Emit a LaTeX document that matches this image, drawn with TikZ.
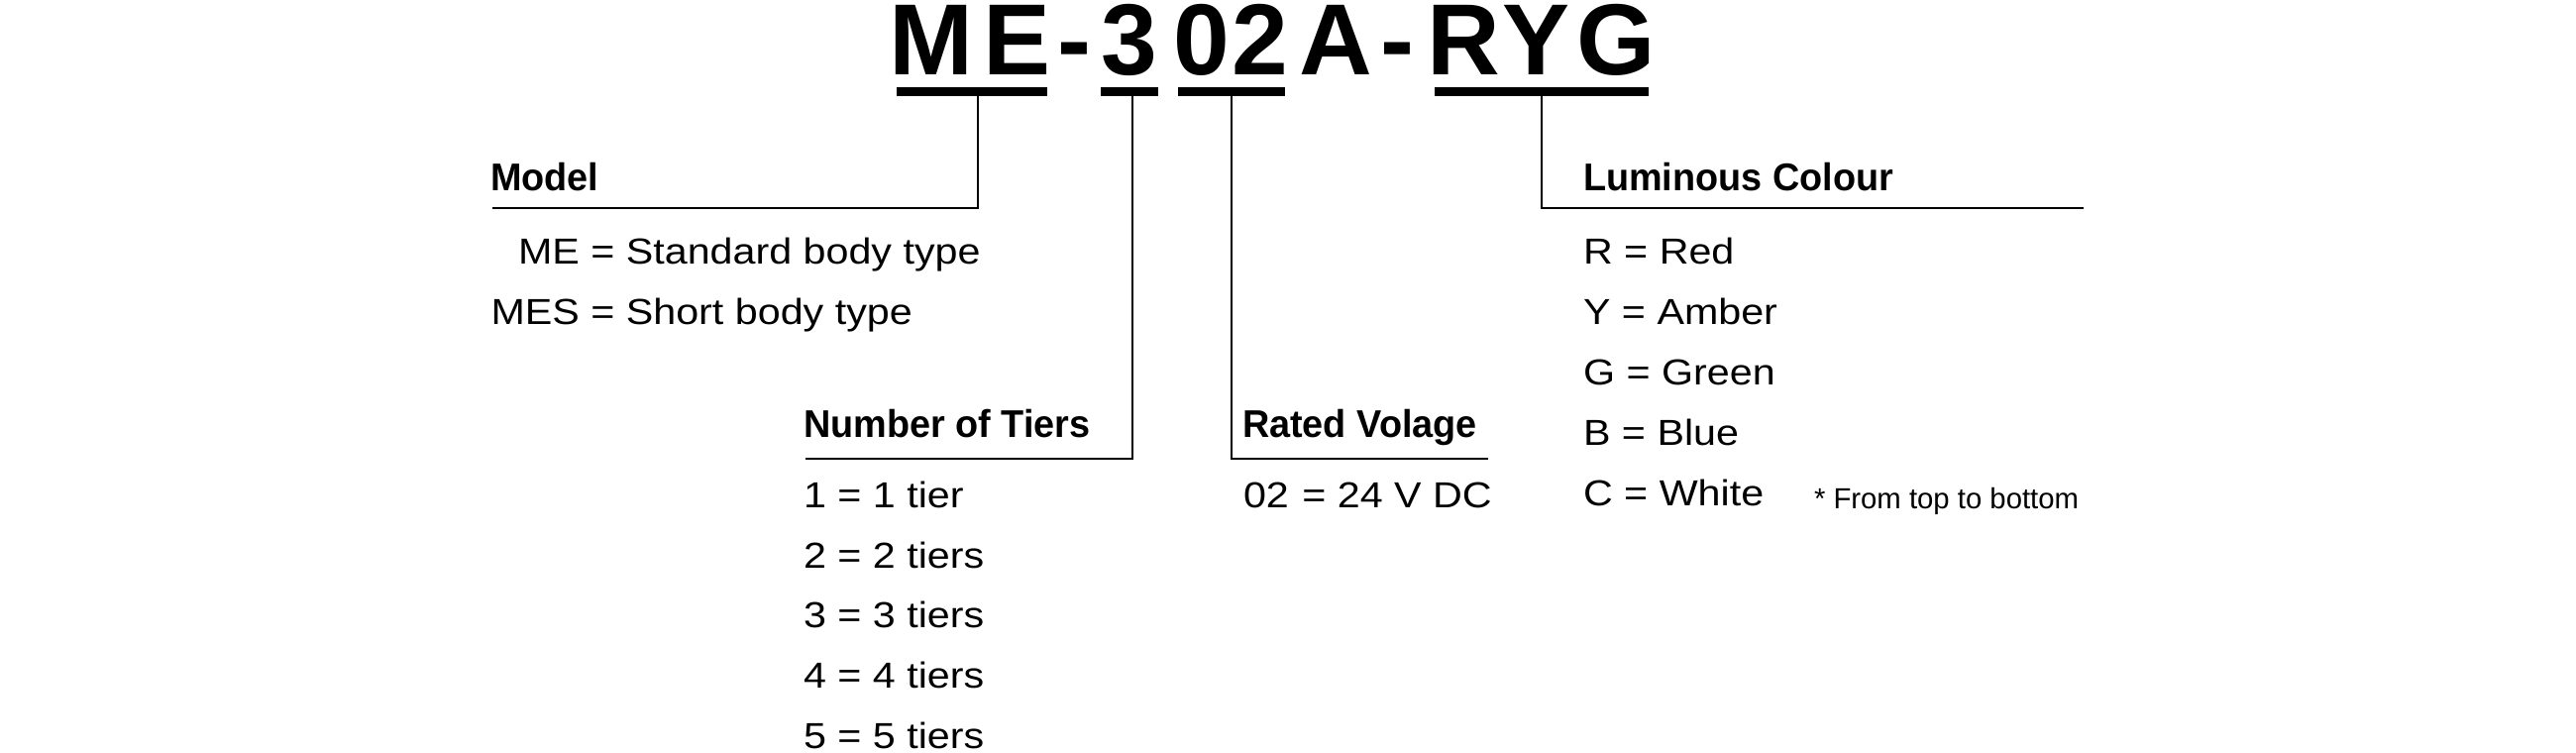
\documentclass[tikz,border=0pt]{standalone}
\usepackage{fontspec}
\setmainfont{Liberation Sans}
\newfontfamily\itemfont{Liberation Sans}[FakeStretch=1.13]
\newfontfamily\headfont{Liberation Sans}[FakeStretch=0.97]
\newfontfamily\titlefont{Liberation Sans}
\tikzset{
  lbl/.style={inner sep=0pt, outer sep=0pt, anchor=base west},
  itm/.style={lbl, font=\itemfont\fontsize{36.5pt}{40pt}\selectfont},
  hd/.style={lbl, font=\headfont\bfseries\fontsize{39pt}{42pt}\selectfont},
  note/.style={lbl, font=\fontsize{29.3pt}{32pt}\selectfont},
  ttl/.style={lbl, font=\titlefont\bfseries\fontsize{102pt}{110pt}\selectfont},
  bar/.style={rectangle, fill=black, draw=none, inner sep=0pt, outer sep=0pt, minimum height=9pt},
  conn/.style={line width=1.8pt, draw=black},
}
\begin{document}
\begin{tikzpicture}[x=1pt,y=-1pt]
\useasboundingbox (0,0) rectangle (2600,760);
% title
\node[ttl] (title) at (897.5,75.5) {M\kern10pt E\kern7.5pt -\kern9.65pt 3\kern16.6pt 0\kern2.3pt 2\kern11.25pt A\kern8.3pt -\kern12.9pt R\kern2.5pt Y\kern6.3pt G};
% underline bars
\node[bar, minimum width=152pt] (bME) at (981,92.2) {};
\node[bar, minimum width=57.5pt] (bT) at (1139.8,92.2) {};
\node[bar, minimum width=107.4pt] (bV) at (1243,92.2) {};
\node[bar, minimum width=216pt] (bC) at (1556,92.2) {};
% line ends
\coordinate (mL) at (497,210);
\coordinate (tL) at (813,463);
\coordinate (vR) at (1502,463);
\coordinate (cR) at (2103,210);
% connectors
\draw[conn] ([xshift=5.7pt]bME.south) |- (mL);
\draw[conn] ([xshift=3.2pt]bT.south) |- (tL);
\draw[conn] (bV.south) |- (vR);
\draw[conn] (bC.south) |- (cR);
% Model
\node[hd] (hModel) at (495,192.7) {Model};
\node[itm] (m1) at (495.5,266) {\hphantom{S}ME = Standard body type};
\node[itm] (m2) at (495.5,327) {MES = Short body type};
% Tiers
\node[hd] (hTiers) at (811,441) {Number of Tiers};
\node[itm] (t1) at (811,512.7) {1 = 1 tier};
\node[itm] (t2) at (811,573.3) {2 = 2 tiers};
\node[itm] (t3) at (811,633.7) {3 = 3 tiers};
\node[itm] (t4) at (811,694.5) {4 = 4 tiers};
\node[itm] (t5) at (811,755) {5 = 5 tiers};
% Voltage
\node[hd] (hVolt) at (1254,441) {Rated Volage};
\node[itm] (v1) at (1255,512.7) {02~\kern2pt= 24 V DC};
% Colour
\node[hd] (hCol) at (1598,192) {Luminous Colour};
\node[itm] (c1) at (1598,266) {R = Red};
\node[itm] (c2) at (1598,327.3) {Y = Amber};
\node[itm] (c3) at (1598,388.3) {G = Green};
\node[itm] (c4) at (1598,449.3) {B = Blue};
\node[itm] (c5) at (1598,510) {C = White};
\node[note] (nt) at (1831,513.3) {* From top to bottom};
\end{tikzpicture}
\end{document}
